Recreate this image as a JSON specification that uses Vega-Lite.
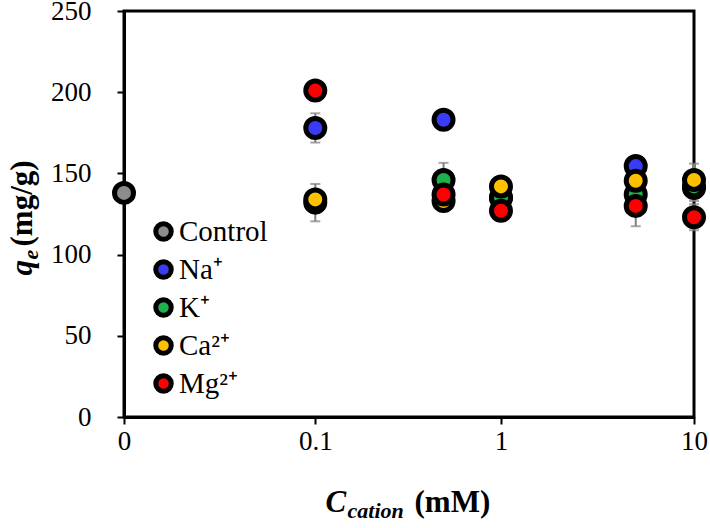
{
  "$schema": "https://vega.github.io/schema/vega-lite/v6.json",
  "width": 570,
  "height": 406,
  "autosize": "none",
  "padding": {"left": 124, "top": 11, "right": 16, "bottom": 111},
  "background": "white",
  "config": {
    "view": {"stroke": "black", "strokeWidth": 3},
    "font": "Liberation Serif",
    "axis": {"grid": false}
  },
  "datasets": {
    "uptake": [
      {"ion": "Control", "conc": 0, "q": 138, "err": 4},
      {"ion": "Na⁺", "conc": 0.1, "q": 178, "err": 9},
      {"ion": "Na⁺", "conc": 0.5, "q": 183, "err": 3},
      {"ion": "Na⁺", "conc": 1, "q": 135, "err": 4},
      {"ion": "Na⁺", "conc": 5, "q": 154.5, "err": 4},
      {"ion": "Na⁺", "conc": 10, "q": 141, "err": 4},
      {"ion": "K⁺", "conc": 0.1, "q": 132, "err": 11.5},
      {"ion": "K⁺", "conc": 0.5, "q": 146, "err": 10.5},
      {"ion": "K⁺", "conc": 1, "q": 135, "err": 5},
      {"ion": "K⁺", "conc": 5, "q": 137, "err": 5},
      {"ion": "K⁺", "conc": 10, "q": 142, "err": 9},
      {"ion": "Ca²⁺", "conc": 0.1, "q": 134, "err": 4},
      {"ion": "Ca²⁺", "conc": 0.5, "q": 133, "err": 5},
      {"ion": "Ca²⁺", "conc": 1, "q": 142, "err": 5},
      {"ion": "Ca²⁺", "conc": 5, "q": 145.5, "err": 5},
      {"ion": "Ca²⁺", "conc": 10, "q": 146, "err": 10},
      {"ion": "Mg²⁺", "conc": 0.1, "q": 201, "err": 3},
      {"ion": "Mg²⁺", "conc": 0.5, "q": 137, "err": 4},
      {"ion": "Mg²⁺", "conc": 1, "q": 127, "err": 4},
      {"ion": "Mg²⁺", "conc": 5, "q": 130, "err": 12.5},
      {"ion": "Mg²⁺", "conc": 10, "q": 123, "err": 8}
    ]
  },
  "data": {"name": "uptake"},
  "resolve": {"scale": {"x": "independent", "y": "independent"}},
  "layer": [
    {
      "encoding": {
        "x": {
          "field": "conc",
          "type": "quantitative",
          "scale": {"type": "symlog", "constant": 0.0115, "domain": [0, 10], "nice": false},
          "axis": {
            "values": [0, 0.1, 1, 10],
            "labelExpr": "datum.value + ''",
            "labelFont": "Liberation Serif",
            "labelFontSize": 27,
            "labelColor": "black",
            "labelPadding": 4,
            "labelFlush": false,
            "labelOverlap": false,
            "tickColor": "black",
            "tickSize": 7,
            "tickWidth": 2,
            "domainColor": "black",
            "domainWidth": 3,
            "title": "C",
            "titleFont": "Liberation Serif",
            "titleFontSize": 31,
            "titleFontStyle": "italic",
            "titleFontWeight": "bold",
            "titleColor": "black",
            "titleAngle": 0,
            "titleAlign": "left",
            "titleBaseline": "alphabetic",
            "titleX": 201,
            "titleY": 94
          }
        },
        "y": {
          "field": "q",
          "type": "quantitative",
          "scale": {"domain": [0, 250], "nice": false},
          "axis": {
            "values": [0, 50, 100, 150, 200, 250],
            "labelFont": "Liberation Serif",
            "labelFontSize": 27,
            "labelColor": "black",
            "labelPadding": 26,
            "labelFlush": false,
            "labelOverlap": false,
            "tickColor": "black",
            "tickSize": 7,
            "tickWidth": 2,
            "domainColor": "black",
            "domainWidth": 3,
            "title": "q",
            "titleFont": "Liberation Serif",
            "titleFontSize": 31,
            "titleFontStyle": "italic",
            "titleFontWeight": "bold",
            "titleColor": "black",
            "titleAngle": 270,
            "titleAlign": "left",
            "titleBaseline": "alphabetic",
            "titleX": -93,
            "titleY": 264
          }
        }
      },
      "layer": [
        {
          "mark": {
            "type": "errorbar",
            "ticks": {"size": 10, "thickness": 2, "color": "#808080"},
            "rule": {"color": "#808080", "strokeWidth": 2}
          },
          "encoding": {"yError": {"field": "err"}}
        },
        {
          "mark": {
            "type": "point",
            "shape": "circle",
            "filled": true,
            "opacity": 1,
            "size": 361,
            "stroke": "black",
            "strokeWidth": 5
          },
          "encoding": {
            "color": {
              "field": "ion",
              "type": "nominal",
              "scale": {
                "domain": ["Control", "Na⁺", "K⁺", "Ca²⁺", "Mg²⁺"],
                "range": ["#8c8c8c", "#3b3bf5", "#1db04c", "#ffc000", "#ff0000"]
              },
              "legend": {
                "title": null,
                "orient": "none",
                "legendX": 25,
                "legendY": 206,
                "padding": 0,
                "labelFont": "Liberation Serif",
                "labelFontSize": 29,
                "labelColor": "black",
                "labelOffset": 1,
                "rowPadding": 1,
                "symbolType": "circle",
                "symbolSize": 240,
                "symbolStrokeColor": "black",
                "symbolStrokeWidth": 5,
                "symbolOpacity": 1
              }
            }
          }
        }
      ]
    },
    {
      "mark": {"type": "point", "opacity": 0},
      "encoding": {
        "x": {
          "field": "conc",
          "type": "quantitative",
          "axis": {
            "orient": "bottom",
            "domain": false,
            "ticks": false,
            "labels": false,
            "grid": false,
            "title": "cation",
            "titleFont": "Liberation Serif",
            "titleFontSize": 22,
            "titleFontStyle": "italic",
            "titleFontWeight": "bold",
            "titleColor": "black",
            "titleAngle": 0,
            "titleAlign": "left",
            "titleBaseline": "alphabetic",
            "titleX": 223,
            "titleY": 100
          }
        },
        "y": {
          "field": "q",
          "type": "quantitative",
          "axis": {
            "orient": "left",
            "domain": false,
            "ticks": false,
            "labels": false,
            "grid": false,
            "title": "e",
            "titleFont": "Liberation Serif",
            "titleFontSize": 22,
            "titleFontStyle": "italic",
            "titleFontWeight": "bold",
            "titleColor": "black",
            "titleAngle": 270,
            "titleAlign": "left",
            "titleBaseline": "alphabetic",
            "titleX": -87,
            "titleY": 248
          }
        }
      }
    },
    {
      "mark": {"type": "point", "opacity": 0},
      "encoding": {
        "x": {
          "field": "conc",
          "type": "quantitative",
          "axis": {
            "orient": "bottom",
            "domain": false,
            "ticks": false,
            "labels": false,
            "grid": false,
            "title": "(mM)",
            "titleFont": "Liberation Serif",
            "titleFontSize": 31,
            "titleFontWeight": "bold",
            "titleColor": "black",
            "titleAngle": 0,
            "titleAlign": "left",
            "titleBaseline": "alphabetic",
            "titleX": 290,
            "titleY": 94
          }
        },
        "y": {
          "field": "q",
          "type": "quantitative",
          "axis": {
            "orient": "left",
            "domain": false,
            "ticks": false,
            "labels": false,
            "grid": false,
            "title": "(mg/g)",
            "titleFont": "Liberation Serif",
            "titleFontSize": 31,
            "titleFontWeight": "bold",
            "titleColor": "black",
            "titleAngle": 270,
            "titleAlign": "left",
            "titleBaseline": "alphabetic",
            "titleX": -93,
            "titleY": 235
          }
        }
      }
    }
  ]
}
